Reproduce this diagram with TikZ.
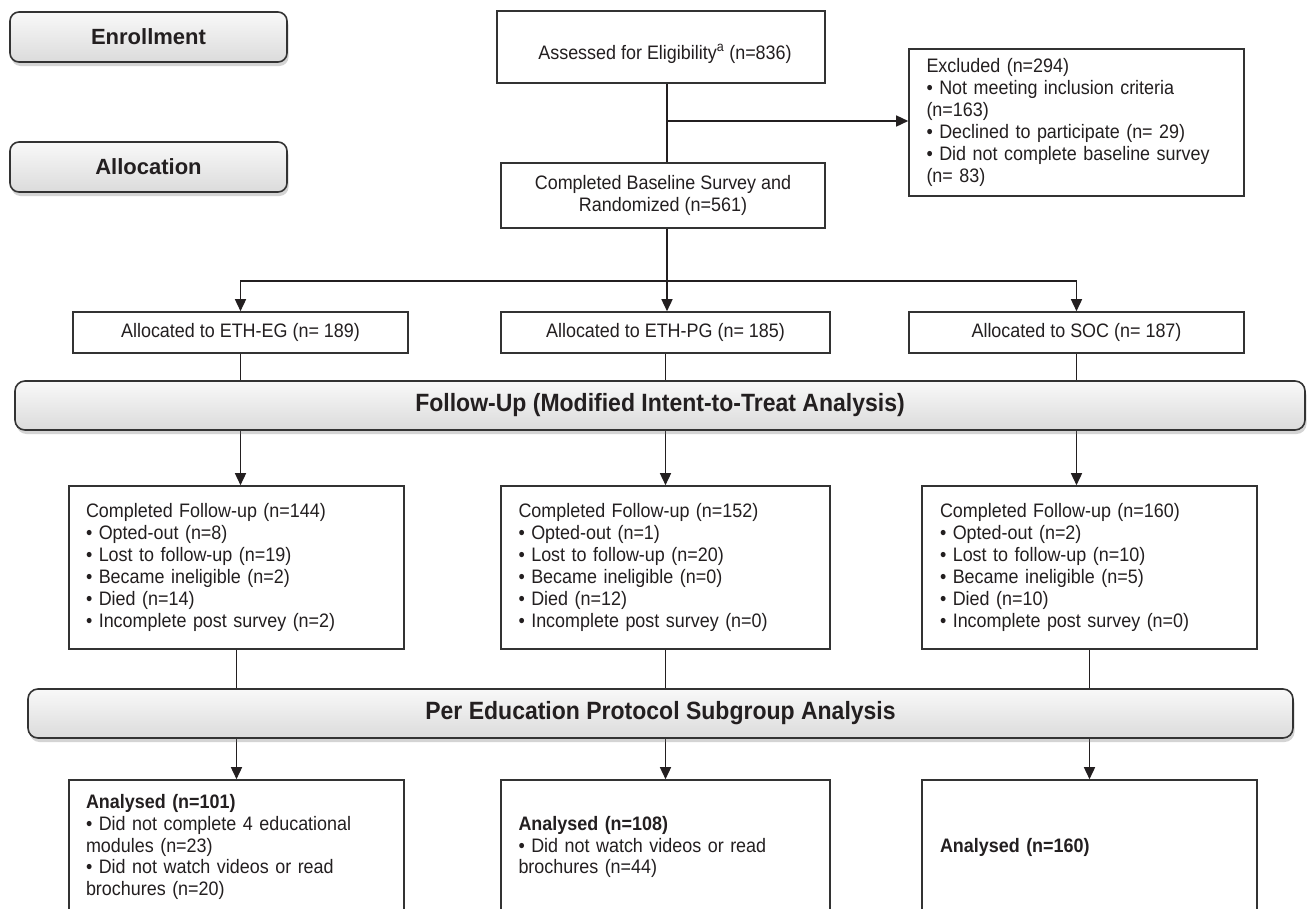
\documentclass[tikz,border=0pt]{standalone}
\usepackage{fontspec}
\setmainfont{Liberation Sans}
\newfontfamily\bodyfont{Liberation Sans}[FakeStretch=0.92]
\usetikzlibrary{arrows.meta,shadows,calc}
\definecolor{edge}{HTML}{333333}
\definecolor{ink}{HTML}{231F20}
\tikzset{
  box/.style={draw=edge, line width=1.6pt, fill=white, inner sep=0pt,
    font=\bodyfont\fontsize{19.5}{21.9}\selectfont, text=ink},
  listbox/.style={box, align=left, text width=#1},
  plain/.style={inner sep=0pt, font=\bodyfont\fontsize{19.5}{21.9}\selectfont, text=ink},
  phase/.style={draw=edge, line width=1.6pt, rounded corners=9pt,
    top color=gray!5, bottom color=gray!28,
    drop shadow={shadow xshift=1.5pt, shadow yshift=-4pt, opacity=0.3, fill=black!55},
    font=\bfseries\fontsize{22}{26}\selectfont, text=ink, inner sep=0pt},
  bar/.style={phase, rounded corners=10pt, minimum height=49pt,
    font=\bodyfont\bfseries\fontsize{25}{28}\selectfont},
  conn/.style={draw=ink, line width=1.5pt},
  arr/.style={conn, -{Triangle[length=12pt,width=11pt]}},
}
\begin{document}
\begin{tikzpicture}[x=1pt,y=-1pt]
\clip (0,0) rectangle (1307,908);
\fill[white] (0,0) rectangle (1307,908);

% phase headers (left)
\node[phase, minimum width=277pt, minimum height=50pt] (enr) at (148.5,37) {Enrollment};
\node[phase, minimum width=277pt, minimum height=50pt] (alc) at (148.5,167) {Allocation};

% enrollment
\node[box, minimum width=328pt, minimum height=72pt] (assess) at (661,47) {};
\node[plain] (assesstxt) at (665,54) {Assessed for Eligibility\textsuperscript{a} (n=836)};
\node[box, align=center, minimum width=324pt, minimum height=65pt] (base) at (663,195.5)
  {Completed Baseline Survey and\\Randomized (n=561)};
\node[listbox=300pt, minimum width=335pt, minimum height=147pt] (excl) at (1076.5,122.5)
  {Excluded (n=294)\\
   • Not meeting inclusion criteria\\
   (n=163)\\
   • Declined to participate (n= 29)\\
   • Did not complete baseline survey\\
   (n= 83)};

% allocation
\node[box, minimum width=335pt, minimum height=41pt] (a1) at (240.5,332.5) {Allocated to ETH-EG (n= 189)};
\node[box, minimum width=329pt, minimum height=41pt] (a2) at (665.5,332.5) {Allocated to ETH-PG (n= 185)};
\node[box, minimum width=335pt, minimum height=41pt] (a3) at (1076.5,332.5) {Allocated to SOC (n= 187)};

% follow-up
\node[listbox=301pt, minimum width=335pt, minimum height=163pt] (f1) at (236.5,567.5)
  {Completed Follow-up (n=144)\\
   • Opted-out (n=8)\\
   • Lost to follow-up (n=19)\\
   • Became ineligible (n=2)\\
   • Died (n=14)\\
   • Incomplete post survey (n=2)};
\node[listbox=294pt, minimum width=329pt, minimum height=163pt] (f2) at (665.5,567.5)
  {Completed Follow-up (n=152)\\
   • Opted-out (n=1)\\
   • Lost to follow-up (n=20)\\
   • Became ineligible (n=0)\\
   • Died (n=12)\\
   • Incomplete post survey (n=0)};
\node[listbox=299pt, minimum width=335pt, minimum height=163pt] (f3) at (1089.5,567.5)
  {Completed Follow-up (n=160)\\
   • Opted-out (n=2)\\
   • Lost to follow-up (n=10)\\
   • Became ineligible (n=5)\\
   • Died (n=10)\\
   • Incomplete post survey (n=0)};

% analysis
\node[listbox=301pt, minimum width=335pt, minimum height=134pt] (an1) at (236.5,847)
  {\textbf{Analysed (n=101)}\\
   • Did not complete 4 educational\\
   modules (n=23)\\
   • Did not watch videos or read\\
   brochures (n=20)};
\node[listbox=294pt, minimum width=329pt, minimum height=134pt] (an2) at (665.5,847)
  {\textbf{Analysed (n=108)}\\
   • Did not watch videos or read\\
   brochures (n=44)};
\node[listbox=299pt, minimum width=335pt, minimum height=134pt] (an3) at (1089.5,847)
  {\textbf{Analysed (n=160)}};

% connectors
\coordinate (split) at (667,121);
\coordinate (hub) at (667,281);
\draw[conn] (assess.south -| split) -- (base.north -| split);
\draw[arr] (split) -- (split -| excl.west);
\draw[conn] (base.south -| hub) -- (hub);
\draw[arr] (hub) -| (a1.north);
\draw[arr] (hub) -| (a3.north);
\draw[arr] (hub) -- (a2.north -| hub);
\draw[arr] (a1.south) -- (a1.south |- f1.north);
\draw[arr] (a2.south) -- (f2.north);
\draw[arr] (a3.south) -- (a3.south |- f3.north);
\draw[arr] (f1.south) -- (an1.north);
\draw[arr] (f2.south) -- (an2.north);
\draw[arr] (f3.south) -- (an3.north);

% phase bars (drawn over the connectors)
\node[bar, minimum width=1290pt] (fup) at (660,405.5)
  {Follow-Up (Modified Intent-to-Treat Analysis)};
\node[bar, minimum width=1265pt] (pep) at (660.5,713.5)
  {Per Education Protocol Subgroup Analysis};
\end{tikzpicture}
\end{document}
